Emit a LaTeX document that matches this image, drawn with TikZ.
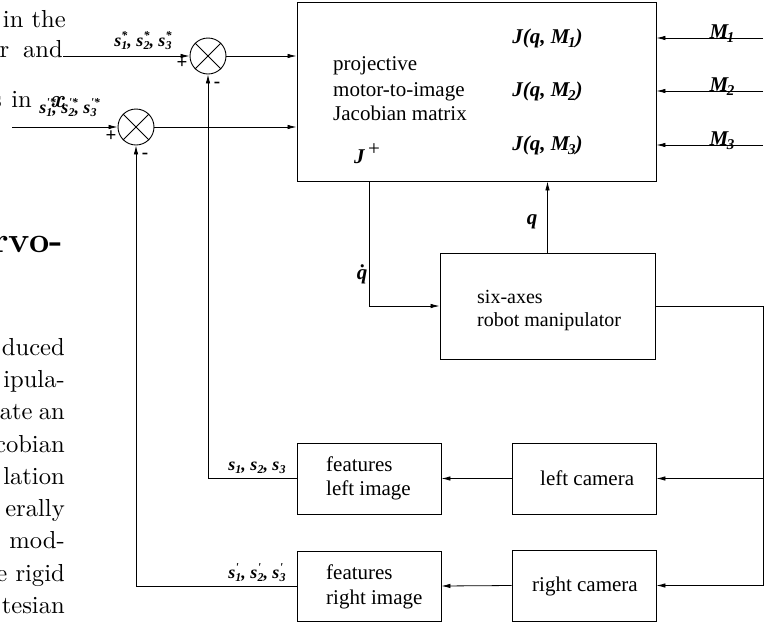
\documentclass[tikz,border=0pt]{standalone}
\usepackage{graphicx}
\usepackage{fontspec}
\newfontfamily\tms{Liberation Serif}
\usetikzlibrary{arrows.meta}
\newcommand\msub[1]{\kern-1.5pt\raisebox{-4pt}{\fontsize{15}{15}\selectfont #1}}
\newcommand\sss[2]{s\rlap{\raisebox{6.5pt}{\fontsize{12}{12}\selectfont #2}}\raisebox{-3.5pt}{\fontsize{12}{12}\selectfont #1}}
\newcommand\ptxt[1]{\scalebox{2.46}{\fontsize{10}{12}\selectfont #1}}
\begin{document}
\begin{tikzpicture}[x=1pt,y=-1pt,
  box/.style={draw, line width=0.9pt, inner sep=0pt},
  sumnode/.style={draw, circle, line width=0.9pt, minimum size=36pt, inner sep=0pt},
  plain/.style={line width=0.8pt},
  arr/.style={line width=0.8pt, -{Latex[length=9pt,width=4.5pt]}},
  txt/.style={font=\tms\fontsize{21}{25}\selectfont, inner sep=0pt, anchor=base west},
  lab/.style={font=\tms\bfseries\itshape\fontsize{21}{24}\selectfont, inner sep=0pt, anchor=base},
  slab/.style={font=\tms\bfseries\itshape\fontsize{18}{20}\selectfont, inner sep=0pt, anchor=base},
  sign/.style={font=\tms\bfseries\fontsize{19}{19}\selectfont, inner sep=0pt},
  paper/.style={inner sep=0pt, anchor=base east},
]
\useasboundingbox (0,0) rectangle (777,622);

% paper text fragments
\node[paper] (p1) at (66,27) {\ptxt{in the}};
\node[paper] (p2) at (63,57) {\ptxt{r\hspace{5.6pt}and}};
\node[paper] (p3) at (32,107) {\ptxt{s\hspace{3.8pt}in}};
\node[paper, anchor=base west] (p3x) at (50,107) {\ptxt{\bfseries\itshape x}};
\node[paper] (p4) at (63,252) {\scalebox{2.5}{\fontsize{14.4}{16}\selectfont\bfseries rvo-}};
\node[paper] (b1) at (65,355) {\ptxt{duced}};
\node[paper] (b2) at (65,387) {\ptxt{ipula-}};
\node[paper] (b3) at (65,419) {\ptxt{ate\hspace{2.5pt}an}};
\node[paper] (b4) at (65,452) {\ptxt{cobian}};
\node[paper] (b5) at (65,484) {\ptxt{lation}};
\node[paper] (b6) at (65,516) {\ptxt{erally}};
\node[paper] (b7) at (65,548) {\ptxt{mod-}};
\node[paper] (b8) at (65,581) {\ptxt{e rigid}};
\node[paper] (b9) at (65,613) {\ptxt{tesian}};

% boxes
\node[box, minimum width=359pt, minimum height=179pt] (main) at (476.5,91.5) {};
\node[box, minimum width=215pt, minimum height=106pt] (robot) at (547.5,306) {};
\node[box, minimum width=144pt, minimum height=71pt] (fl) at (369,478.5) {};
\node[box, minimum width=144pt, minimum height=70pt] (fr) at (369,586) {};
\node[box, minimum width=144pt, minimum height=71pt] (lc) at (584,478.5) {};
\node[box, minimum width=144pt, minimum height=71pt] (rc) at (584,585.5) {};

% summing junctions
\node[sumnode] (sum1) at (208,56) {};
\node[sumnode] (sum2) at (136,127) {};
\foreach \s in {sum1,sum2}{
  \draw[plain] (\s.north east) -- (\s.south west);
  \draw[plain] (\s.north west) -- (\s.south east);
}

% box texts
\node[txt] (t1) at (333,70.7) {projective};
\node[txt] (t2) at (333,96.5) {motor-to-image};
\node[txt] (t3) at (333,120.5) {Jacobian matrix};
\node[lab] (j1) at (547.5,43) {J(q, M\msub{1})};
\node[lab] (j2) at (547.5,96) {J(q, M\msub{2})};
\node[lab] (j3) at (547.5,150) {J(q, M\msub{3})};
\node[lab, anchor=base west] (jp) at (354,163) {J};
\node[font=\tms\fontsize{21}{21}\selectfont, inner sep=0pt] (jpp) at (374,150) {+};
\node[txt, font=\tms\fontsize{20}{24}\selectfont] (r1) at (477,303) {six-axes};
\node[txt, font=\tms\fontsize{20}{24}\selectfont] (r2) at (477,326) {robot manipulator};
\node[txt] (f1) at (326,471) {features};
\node[txt] (f2) at (326,495) {left image};
\node[txt] (f3) at (326,579) {features};
\node[txt] (f4) at (326,604) {right image};
\node[txt] (lct) at (540,485) {left camera};
\node[txt] (rct) at (532,591) {right camera};

% coordinates
\coordinate (in1) at (63,56);
\coordinate (in2) at (12,127);
\coordinate (m1) at (763,38);
\coordinate (m2) at (763,91);
\coordinate (m3) at (763,145);
\coordinate (jpo) at (369,181);
\coordinate (rr) at (763,306);

% connectors
\draw[arr] (in1) -- (sum1.west);
\draw[arr] (sum1.east) -- (sum1.east -| main.west);
\draw[arr] (in2) -- (sum2.west);
\draw[arr] (sum2.east) -- (sum2.east -| main.west);
\draw[arr] (fl.west) -| (sum1.south);
\draw[arr] (fr.west) -| (sum2.south);
\draw[arr] (lc.west) -- (fl.east);
\draw[arr] (rc.west) -- (fr.east);
\draw[plain] (robot.east) -- (rr) -- (rr |- rc.east);
\draw[arr] (rr |- lc.east) -- (lc.east);
\draw[arr] (rr |- rc.east) -- (rc.east);
\draw[arr] (robot.north) -- (robot.north |- main.south);
\draw[arr] (jpo) |- (robot.west);
\draw[arr] (m1) -- (m1 -| main.east);
\draw[arr] (m2) -- (m2 -| main.east);
\draw[arr] (m3) -- (m3 -| main.east);

% connector labels
\node[lab] (lm1) at (722,38) {M\msub{1}};
\node[lab] (lm2) at (722,91) {M\msub{2}};
\node[lab] (lm3) at (722,145) {M\msub{3}};
\node[lab] (lq) at (532,224) {q};
\node[lab] (lqd) at (362,279) {\.{q}};
\node[slab] (ls1) at (143,46) {\sss{1}{*}, \sss{2}{*}, \sss{3}{*}};
\node[slab] (ls2) at (68,113) {\sss{1}{'*}, \sss{2}{'*}, \sss{3}{'*}};
\node[slab] (ls3) at (257,470) {\sss{1}{}, \sss{2}{}, \sss{3}{}};
\node[slab] (ls4) at (257,578) {\sss{1}{'}, \sss{2}{'}, \sss{3}{'}};
\node[sign] (pl1) at (182,63) {+};
\node[sign] (mi1) at (217,85) {-};
\node[sign] (pl2) at (111,136) {+};
\node[sign] (mi2) at (145,156) {-};
\end{tikzpicture}
\end{document}
